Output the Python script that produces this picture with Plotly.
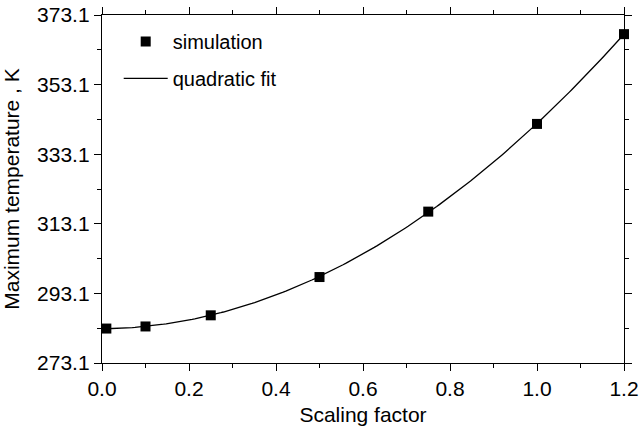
import numpy as np
import plotly.graph_objects as go

# Data
scaling_factor = [0.01, 0.1, 0.25, 0.5, 0.75, 1.0, 1.2]
max_temperature = [283.0, 283.6, 286.8, 297.8, 316.6, 341.8, 367.6]

y_tickvals = [273.1, 293.1, 313.1, 333.1, 353.1, 373.1]
x_tickvals = [0.0, 0.2, 0.4, 0.6, 0.8, 1.0, 1.2]

# Quadratic fit of the simulation data
coef = np.polyfit(scaling_factor, max_temperature, 2)
fit_x = np.linspace(min(scaling_factor), max(scaling_factor), 200)
fit_y = np.polyval(coef, fit_x)

FONT = "Liberation Sans, Arial, Helvetica, sans-serif"

fig = go.Figure()
fig.add_trace(go.Scatter(
    x=fit_x, y=fit_y, mode="lines", name="quadratic fit",
    line=dict(color="black", width=1.3), legendrank=2, cliponaxis=False,
    legendgroup="fit",
))
fig.add_trace(go.Scatter(
    x=scaling_factor, y=max_temperature, mode="markers", name="simulation",
    marker=dict(symbol="square", size=10, color="black"), legendrank=1,
    cliponaxis=False, legendgroup="sim",
))

axis_common = dict(
    showgrid=False, zeroline=False, showline=True, linecolor="black",
    linewidth=1.3, mirror="ticks", ticks="outside", tickcolor="black",
    tickwidth=1.3, ticklen=7, automargin=False, ticklabeloverflow="allow",
    tickfont=dict(family=FONT, size=21, color="black"),
)

fig.update_layout(
    width=640, height=428,
    margin=dict(l=102, r=16, t=15, b=65),
    paper_bgcolor="white", plot_bgcolor="white",
    font=dict(family=FONT, size=20, color="black"),
    showlegend=True,
    legend=dict(x=0.032, y=0.98, xanchor="left", yanchor="top",
                bgcolor="rgba(0,0,0,0)", font=dict(size=20),
                traceorder="grouped", tracegroupgap=8, itemwidth=44),
    xaxis=dict(
        range=[0, 1.2], tickvals=x_tickvals, ticktext=[f"{v:.1f}" for v in x_tickvals],
        minor=dict(dtick=0.1, tick0=0, ticks="outside", ticklen=4,
                   tickwidth=1.3, tickcolor="black"),
        title=dict(text="Scaling factor", font=dict(size=21), standoff=7),
        **axis_common,
    ),
    yaxis=dict(
        range=[273.1, 373.1], tickvals=y_tickvals,
        ticktext=[f"{v:.1f}" for v in y_tickvals],
        minor=dict(dtick=10, tick0=273.1, ticks="outside", ticklen=4,
                   tickwidth=1.3, tickcolor="black"),
        title=dict(text="Maximum temperature , K", font=dict(size=21), standoff=11),
        **axis_common,
    ),
)

# Remove the page's default body margin so the figure sits at the window origin.
fig.write_html("out.html", config={"displayModeBar": False},
               post_script="document.body.style.margin='0';")
